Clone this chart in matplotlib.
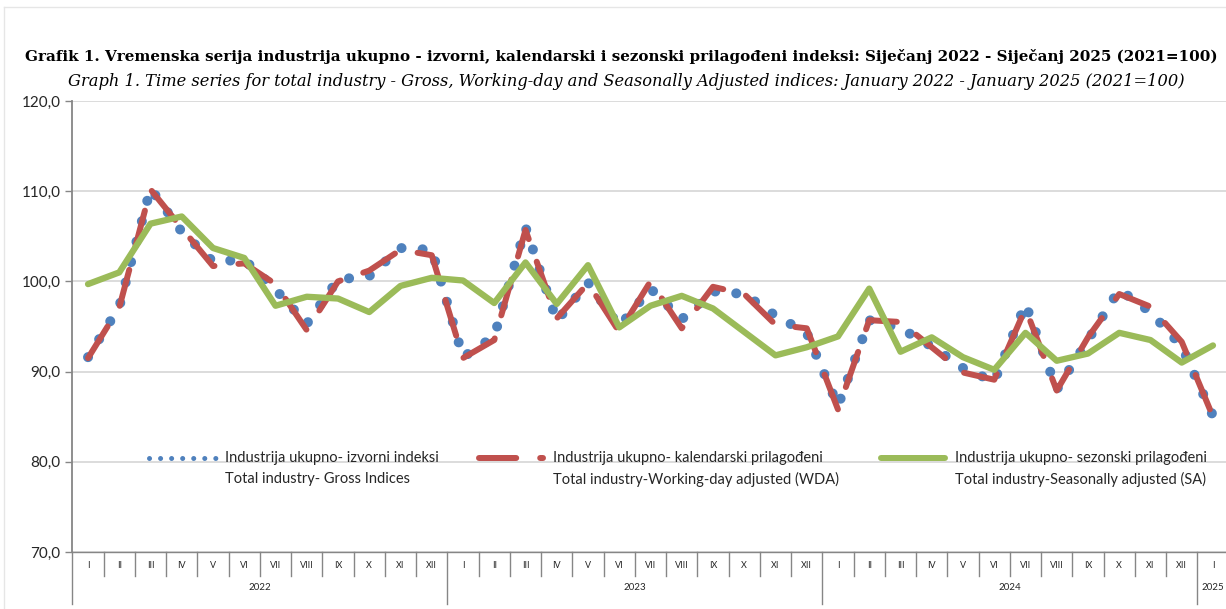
import matplotlib
matplotlib.use("Agg")
import matplotlib.pyplot as plt
import matplotlib.transforms as mtransforms
from matplotlib.lines import Line2D
from matplotlib.ticker import FuncFormatter
import numpy as np

# ---------------- data ----------------
months = ["I", "II", "III", "IV", "V", "VI", "VII", "VIII", "IX", "X", "XI", "XII"]
month_labels = months * 3 + ["I"]
years = ["2022", "2023", "2024", "2025"]
year_counts = [12, 12, 12, 1]

gross = [91.6, 97.2, 110.3, 105.5, 102.2, 102.4, 99.1, 95.3, 100.2, 100.6, 103.7, 103.5,
         91.6, 93.9, 106.0, 95.6, 99.9, 95.0, 99.2, 95.8, 98.9, 98.6, 96.2, 94.3,
         86.2, 95.7, 94.8, 92.8, 90.4, 88.9, 97.5, 88.0, 93.5, 99.1, 96.6, 92.8,
         85.1]
wda = [91.5, 97.1, 110.2, 105.9, 101.7, 102.0, 99.7, 94.6, 100.0, 101.2, 103.5, 102.9,
       91.5, 93.5, 105.7, 95.9, 99.8, 94.4, 100.0, 94.8, 99.4, 98.6, 95.2, 94.8,
       85.8, 95.7, 95.5, 92.7, 89.9, 89.1, 97.0, 87.9, 93.8, 98.6, 97.2, 93.3,
       85.0]
sa = [99.7, 101.0, 106.4, 107.2, 103.7, 102.6, 97.3, 98.3, 98.1, 96.6, 99.5, 100.4,
      100.1, 97.6, 102.1, 97.5, 101.8, 94.9, 97.3, 98.4, 97.0, 94.4, 91.8, 92.7,
      93.9, 99.2, 92.2, 93.8, 91.6, 90.2, 94.3, 91.2, 92.0, 94.3, 93.5, 91.0,
      92.9]

title1 = ("Grafik 1. Vremenska serija industrija ukupno - izvorni, kalendarski i sezonski "
          "prilagođeni indeksi: Siječanj 2022 - Siječanj 2025 (2021=100)")
title2 = ("Graph 1. Time series for total industry - Gross, Working-day and Seasonally "
          "Adjusted indices: January 2022 - January 2025 (2021=100)")
leg1 = ["Industrija ukupno- izvorni indeksi", "Total industry- Gross Indices"]
leg2 = ["Industrija ukupno- kalendarski prilagođeni", "Total industry-Working-day adjusted (WDA)"]
leg3 = ["Industrija ukupno- sezonski prilagođeni", "Total industry-Seasonally adjusted (SA)"]

# ---------------- styles ----------------
C_GROSS = "#4F81BD"
C_WDA = "#C0504D"
C_SA = "#9BBB59"
C_AXIS = "#868686"
C_GRID = "#d9d9d9"
C_TEXT = "#262626"
SANS = ["Lato", "DejaVu Sans"]
SERIF = ["DejaVu Serif"]

W, H = 1226, 609
fig = plt.figure(figsize=(W / 100, H / 100), dpi=100)
PX = 0.72  # points per pixel


def fx(px):
    return px / W


def fy(py):
    return 1 - py / H


renderer = fig.canvas.get_renderer()


def fit_text(xc, yc, s, target_w, ha="center", **kw):
    t = fig.text(fx(xc), fy(yc), s, ha=ha, va="center", fontsize=10, **kw)
    w = t.get_window_extent(renderer).width
    t.set_fontsize(10 * target_w / w)
    return t


left_px, right_px, top_px, bot_px = 72.4, 1228.6, 101, 552
ax = fig.add_axes([fx(left_px), fy(bot_px), (right_px - left_px) / W, (bot_px - top_px) / H])

x = np.arange(len(sa))
ax.set_xlim(-0.5, len(sa) - 0.5)
ax.set_ylim(70, 120)
ax.set_yticks(np.arange(70, 121, 10))
ax.yaxis.set_major_formatter(FuncFormatter(lambda v, p: f"{v:.1f}".replace(".", ",")))
ax.set_xticks([])
ax.yaxis.grid(True, color=C_GRID, lw=1.3)
ax.set_axisbelow(True)
for s in ["top", "right"]:
    ax.spines[s].set_visible(False)
ax.spines["left"].set_color(C_AXIS)
ax.spines["bottom"].set_color(C_AXIS)
ax.spines["left"].set_linewidth(1.3)
ax.spines["bottom"].set_linewidth(1.0)
ax.tick_params(axis="y", length=5, width=1, color=C_AXIS, pad=3.5, labelsize=11,
               labelcolor=C_TEXT)
for lab in ax.get_yticklabels():
    lab.set_family(SANS)

# series
ax.plot(x, gross, color=C_GROSS, lw=10 * PX, linestyle=(0, (0.01, 2.1)),
        dash_capstyle="round", dash_joinstyle="round", zorder=2)
ax.plot(x, wda, color=C_WDA, lw=6 * PX, linestyle=(0, (6.2, 4.0)),
        dash_capstyle="round", dash_joinstyle="round", zorder=3)
ax.plot(x, sa, color=C_SA, lw=6.3 * PX, solid_capstyle="round",
        solid_joinstyle="round", zorder=4)

# multi-level category axis
trans = mtransforms.blended_transform_factory(ax.transData, fig.transFigure)
n = len(sa)
boundaries = np.cumsum([0] + year_counts)
for k in range(n + 1):
    xpos = k - 0.5
    y_end = 604 if k in boundaries else 576
    ax.add_line(Line2D([xpos, xpos], [fy(bot_px), fy(y_end)], transform=trans,
                       color=C_AXIS, lw=1.0, clip_on=False))
for i, m in enumerate(month_labels):
    ax.text(i, fy(565), m, transform=trans, ha="center", va="center",
            fontsize=6.5, color=C_TEXT, family=SANS)
for yr, s0, cnt in zip(years, boundaries[:-1], year_counts):
    ax.text(s0 + cnt / 2 - 0.5, fy(588), yr, transform=trans, ha="center",
            va="center", fontsize=7, color=C_TEXT, family=SANS)

# titles
fit_text(621, 57, title1, 1196, fontweight="bold", family=SERIF, color="black")
fit_text(626.5, 81, title2, 1113, fontstyle="italic", family=SERIF, color="black")

# legend (manual)
fig.add_artist(Line2D([fx(149), fx(217)], [fy(458)] * 2, color=C_GROSS, lw=5 * PX,
                      linestyle=(0, (0.01, 2.2)), dash_capstyle="round"))
fig.add_artist(Line2D([fx(479), fx(543)], [fy(458)] * 2, color=C_WDA, lw=6 * PX,
                      linestyle=(0, (6.2, 4.0)), dash_capstyle="round"))
fig.add_artist(Line2D([fx(881), fx(945)], [fy(458)] * 2, color=C_SA, lw=6 * PX,
                      solid_capstyle="round"))

leg_specs = [(225, leg1, [215, 182]), (553, leg2, [284, 283]), (955, leg3, [251, 250])]
sizes = []
for xs, texts, widths in leg_specs:
    for s, w in zip(texts, widths):
        t = fig.text(0, 0, s, fontsize=10, family=SANS)
        sizes.append(10 * w / t.get_window_extent(renderer).width)
        t.remove()
leg_fs = float(np.median(sizes))
for xs, texts, widths in leg_specs:
    fig.text(fx(xs), fy(458), texts[0], ha="left", va="center", fontsize=leg_fs,
             family=SANS, color=C_TEXT)
    fig.text(fx(xs), fy(479), texts[1], ha="left", va="center", fontsize=leg_fs,
             family=SANS, color=C_TEXT)

# faint chart frame
fig.add_artist(Line2D([fx(4), fx(W + 5)], [fy(7)] * 2, color="#e6e6e6", lw=1))
fig.add_artist(Line2D([fx(4), fx(4)], [fy(7), fy(H + 5)], color="#e6e6e6", lw=1))

fig.savefig("out.png", dpi=100, facecolor="white")
